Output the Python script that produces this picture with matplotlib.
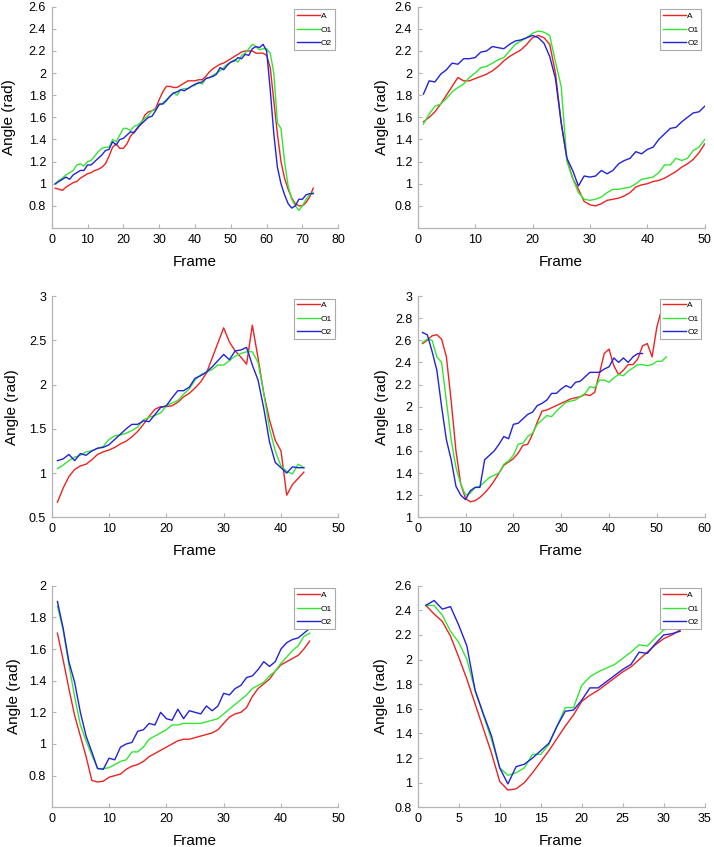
import matplotlib
matplotlib.use("Agg")
import matplotlib.pyplot as plt
import numpy as np

plt.rcParams['font.family'] = ['Liberation Sans', 'DejaVu Sans']

# ---------------- Panel 1 ----------------
p1_A = [0.96,0.95,0.94,0.97,0.99,1.01,1.02,1.05,1.07,1.09,1.10,1.12,1.13,1.15,1.18,1.25,1.33,1.36,1.32,1.32,
        1.36,1.43,1.47,1.50,1.55,1.62,1.65,1.66,1.68,1.76,1.83,1.88,1.88,1.87,1.87,1.89,1.91,1.93,1.93,1.93,
        1.94,1.94,1.97,2.01,2.04,2.06,2.08,2.09,2.11,2.13,2.15,2.17,2.19,2.20,2.20,2.20,2.18,2.18,2.18,2.16,
        2.05,1.75,1.45,1.20,1.05,0.95,0.87,0.82,0.80,0.80,0.83,0.88,0.96]
p1_O1 = [1.00,1.03,1.05,1.08,1.10,1.12,1.17,1.18,1.16,1.20,1.21,1.25,1.29,1.32,1.33,1.33,1.40,1.38,1.44,1.50,
         1.50,1.48,1.52,1.53,1.56,1.59,1.62,1.66,1.67,1.71,1.73,1.76,1.79,1.82,1.80,1.85,1.86,1.86,1.88,1.89,
         1.92,1.90,1.95,1.96,1.98,2.00,2.02,2.05,2.08,2.10,2.12,2.10,2.16,2.18,2.22,2.26,2.24,2.21,2.22,2.22,
         2.18,2.00,1.55,1.50,1.20,0.98,0.86,0.80,0.76,0.80,0.86,0.90,0.92]
p1_O2 = [1.00,1.02,1.04,1.06,1.04,1.08,1.10,1.12,1.12,1.17,1.17,1.20,1.23,1.26,1.30,1.31,1.38,1.35,1.40,1.41,
         1.44,1.47,1.46,1.51,1.54,1.57,1.60,1.61,1.66,1.72,1.72,1.75,1.79,1.82,1.83,1.85,1.84,1.86,1.88,1.90,
         1.91,1.92,1.95,1.96,1.97,1.99,2.05,2.03,2.07,2.10,2.11,2.14,2.13,2.17,2.16,2.22,2.24,2.23,2.26,2.20,
         1.85,1.45,1.15,1.00,0.90,0.82,0.78,0.80,0.86,0.86,0.90,0.91,0.91]

# ---------------- Panel 2 ----------------
p2_A = [1.56,1.60,1.65,1.72,1.80,1.88,1.96,1.93,1.93,1.95,1.97,1.99,2.02,2.06,2.11,2.15,2.18,2.21,2.26,2.32,
        2.34,2.32,2.26,2.00,1.55,1.22,1.05,0.95,0.84,0.81,0.80,0.82,0.85,0.86,0.87,0.89,0.92,0.97,0.99,1.00,
        1.02,1.03,1.05,1.08,1.11,1.15,1.18,1.22,1.28,1.36]
p2_O1 = [1.54,1.63,1.70,1.72,1.77,1.83,1.87,1.90,1.96,2.00,2.05,2.06,2.09,2.12,2.14,2.20,2.26,2.29,2.32,2.36,
         2.38,2.37,2.34,2.10,1.88,1.20,1.05,0.92,0.86,0.85,0.86,0.88,0.92,0.95,0.95,0.96,0.97,1.00,1.04,1.05,
         1.06,1.10,1.17,1.17,1.23,1.21,1.23,1.30,1.33,1.40]
p2_O2 = [1.81,1.93,1.92,1.99,2.03,2.09,2.08,2.13,2.13,2.14,2.19,2.20,2.24,2.23,2.22,2.26,2.29,2.30,2.32,2.34,
         2.32,2.27,2.15,1.95,1.55,1.23,1.12,0.98,1.07,1.06,1.07,1.12,1.09,1.12,1.18,1.21,1.23,1.29,1.27,1.31,
         1.33,1.40,1.45,1.50,1.51,1.56,1.60,1.64,1.65,1.70]

# ---------------- Panel 3 ----------------
p3_A = [0.67,0.83,0.96,1.04,1.08,1.10,1.15,1.21,1.24,1.26,1.29,1.33,1.36,1.41,1.47,1.55,1.64,1.72,1.75,1.75,
        1.76,1.80,1.86,1.90,1.96,2.03,2.13,2.30,2.47,2.64,2.48,2.38,2.31,2.23,2.67,2.30,1.90,1.60,1.37,1.25,
        0.75,0.87,0.94,1.01]
p3_O1 = [1.05,1.09,1.14,1.18,1.20,1.24,1.25,1.28,1.30,1.38,1.42,1.43,1.45,1.48,1.52,1.60,1.63,1.65,1.68,1.76,
         1.79,1.82,1.89,1.95,2.05,2.11,2.14,2.17,2.22,2.22,2.27,2.32,2.35,2.37,2.37,2.25,1.90,1.50,1.25,1.08,
         1.02,0.99,1.10,1.06]
p3_O2 = [1.14,1.16,1.21,1.14,1.22,1.20,1.25,1.28,1.29,1.32,1.38,1.44,1.50,1.55,1.55,1.59,1.58,1.66,1.74,1.76,
         1.85,1.93,1.93,1.97,2.07,2.10,2.14,2.20,2.27,2.34,2.28,2.38,2.39,2.42,2.22,2.05,1.73,1.35,1.12,1.06,
         1.00,1.07,1.06,1.06]

# ---------------- Panel 4 ----------------
p4_A = [2.57,2.60,2.64,2.65,2.61,2.45,2.05,1.60,1.30,1.17,1.14,1.15,1.18,1.22,1.27,1.33,1.40,1.47,1.50,1.53,
        1.58,1.65,1.66,1.75,1.86,1.96,1.97,1.99,2.01,2.03,2.05,2.07,2.08,2.09,2.11,2.10,2.13,2.30,2.48,2.52,
        2.37,2.29,2.33,2.38,2.38,2.43,2.55,2.57,2.45,2.72,2.88]
p4_O1 = [2.58,2.61,2.60,2.45,2.40,2.05,1.70,1.45,1.30,1.20,1.22,1.27,1.28,1.32,1.36,1.38,1.40,1.48,1.51,1.56,
         1.66,1.67,1.73,1.76,1.84,1.88,1.92,1.91,1.96,2.00,2.04,2.05,2.06,2.09,2.12,2.18,2.17,2.24,2.24,2.22,
         2.26,2.29,2.28,2.32,2.35,2.38,2.38,2.37,2.38,2.41,2.41,2.45]
p4_O2 = [2.67,2.65,2.50,2.33,2.00,1.70,1.52,1.28,1.20,1.16,1.24,1.27,1.27,1.52,1.56,1.60,1.66,1.73,1.71,1.84,
         1.85,1.89,1.93,1.95,2.01,2.03,2.06,2.12,2.12,2.16,2.19,2.17,2.22,2.23,2.27,2.31,2.31,2.31,2.34,2.36,
         2.44,2.40,2.44,2.40,2.45,2.48,2.48]

# ---------------- Panel 5 ----------------
p5_A = [1.70,1.53,1.35,1.18,1.05,0.92,0.77,0.76,0.765,0.79,0.80,0.81,0.84,0.86,0.87,0.89,0.92,0.94,0.96,0.98,
        1.00,1.02,1.03,1.03,1.04,1.05,1.06,1.07,1.09,1.13,1.17,1.19,1.20,1.23,1.30,1.35,1.38,1.41,1.46,1.50,
        1.52,1.54,1.56,1.60,1.65]
p5_O1 = [1.87,1.72,1.50,1.30,1.12,1.02,0.93,0.845,0.845,0.85,0.87,0.89,0.90,0.95,0.95,0.98,1.03,1.05,1.07,1.09,
         1.12,1.12,1.13,1.13,1.13,1.13,1.14,1.15,1.16,1.19,1.22,1.25,1.28,1.31,1.35,1.37,1.39,1.43,1.46,1.51,
         1.55,1.59,1.62,1.68,1.70]
p5_O2 = [1.90,1.73,1.52,1.39,1.20,1.05,0.95,0.845,0.84,0.91,0.90,0.98,1.00,1.01,1.08,1.09,1.13,1.12,1.20,1.16,
         1.15,1.22,1.16,1.21,1.20,1.19,1.24,1.21,1.24,1.32,1.31,1.35,1.37,1.42,1.43,1.47,1.52,1.49,1.52,1.60,
         1.64,1.66,1.67,1.70,1.73]

# ---------------- Panel 6 ----------------
p6_A = [2.44,2.37,2.31,2.19,2.02,1.84,1.64,1.44,1.24,1.01,0.94,0.95,1.00,1.08,1.17,1.26,1.36,1.46,1.55,1.66,
        1.71,1.75,1.80,1.85,1.90,1.94,2.00,2.06,2.12,2.17,2.20,2.24]
p6_O1 = [2.44,2.44,2.36,2.23,2.14,2.00,1.75,1.55,1.35,1.12,1.06,1.08,1.12,1.23,1.23,1.31,1.46,1.61,1.61,1.79,
         1.86,1.90,1.93,1.96,2.01,2.06,2.12,2.11,2.18,2.24,2.26,2.28]
p6_O2 = [2.44,2.48,2.41,2.43,2.28,2.11,1.75,1.56,1.38,1.12,0.99,1.13,1.15,1.20,1.26,1.32,1.46,1.58,1.59,1.67,
         1.77,1.77,1.82,1.87,1.92,1.96,2.06,2.05,2.13,2.20,2.21,2.23]

panels = [
    (p1_A, p1_O1, p1_O2, (0, 80), np.arange(0, 81, 10), (0.6, 2.6), [0.8,1,1.2,1.4,1.6,1.8,2,2.2,2.4,2.6]),
    (p2_A, p2_O1, p2_O2, (0, 50), np.arange(0, 51, 10), (0.6, 2.6), [0.8,1,1.2,1.4,1.6,1.8,2,2.2,2.4,2.6]),
    (p3_A, p3_O1, p3_O2, (0, 50), np.arange(0, 51, 10), (0.5, 3.0), [0.5,1,1.5,2,2.5,3]),
    (p4_A, p4_O1, p4_O2, (0, 60), np.arange(0, 61, 10), (1.0, 3.0), [1,1.2,1.4,1.6,1.8,2,2.2,2.4,2.6,2.8,3]),
    (p5_A, p5_O1, p5_O2, (0, 50), np.arange(0, 51, 10), (0.6, 2.0), [0.8,1,1.2,1.4,1.6,1.8,2]),
    (p6_A, p6_O1, p6_O2, (0, 35), np.arange(0, 36, 5), (0.8, 2.6), [0.8,1,1.2,1.4,1.6,1.8,2,2.2,2.4,2.6]),
]

labels = ['A', 'O1', 'O2']
colors = ['#ee2222', '#33e633', '#2222dd']

W, H = 714, 847
fig = plt.figure(figsize=(W/100, H/100), dpi=100)

# axes boxes in pixels: (left, top, right, bottom)
boxes = [
    (51.7, 6.7, 338.3, 228.0), (417.7, 6.7, 704.7, 228.0),
    (51.7, 296.0, 338.3, 517.3), (417.7, 296.0, 704.7, 517.3),
    (51.7, 585.7, 338.3, 807.3), (417.7, 585.7, 704.7, 807.3),
]
ylabel_x = [-0.150, -0.124, -0.137, -0.126, -0.133, -0.129]

def fmt(v):
    return '%g' % v

axis_col = '#b4b4b4'
for i, ((A, O1, O2, xl, xt, yl, yt), (l, t, r, b)) in enumerate(zip(panels, boxes)):
    ax = fig.add_axes([l/W, 1 - b/H, (r-l)/W, (b-t)/H])
    for data, lab, c in zip([A, O1, O2], labels, colors):
        x = np.arange(1, len(data)+1)
        ax.plot(x, data, color=c, lw=1.0, label=lab)
    ax.set_xlim(*xl)
    ax.set_ylim(*yl)
    ax.set_xticks(xt)
    ax.set_xticklabels([fmt(v) for v in xt])
    ax.set_yticks(yt)
    ax.set_yticklabels([fmt(v) for v in yt])
    for s in ['top', 'right']:
        ax.spines[s].set_visible(False)
    for s in ['left', 'bottom']:
        ax.spines[s].set_color(axis_col)
        ax.spines[s].set_linewidth(0.9)
    ax.tick_params(direction='in', length=3, width=0.8, color=axis_col,
                   labelsize=9, labelcolor='black', pad=4)
    ax.set_xlabel('Frame', fontsize=11, va='center')
    ax.xaxis.set_label_coords(0.5, -0.152)
    ax.set_ylabel('Angle (rad)', fontsize=11, va='center')
    ax.yaxis.set_label_coords(ylabel_x[i], 0.5)
    leg = ax.legend(loc='upper right', bbox_to_anchor=(0.9885, 0.988), borderaxespad=0,
                    fontsize=6, handlelength=2.75, handletextpad=0.15, labelspacing=0.68,
                    borderpad=0.34, fancybox=False, framealpha=1, edgecolor='#aaaaaa')
    leg.get_frame().set_linewidth(0.8)

fig.savefig('out.png', dpi=100)
